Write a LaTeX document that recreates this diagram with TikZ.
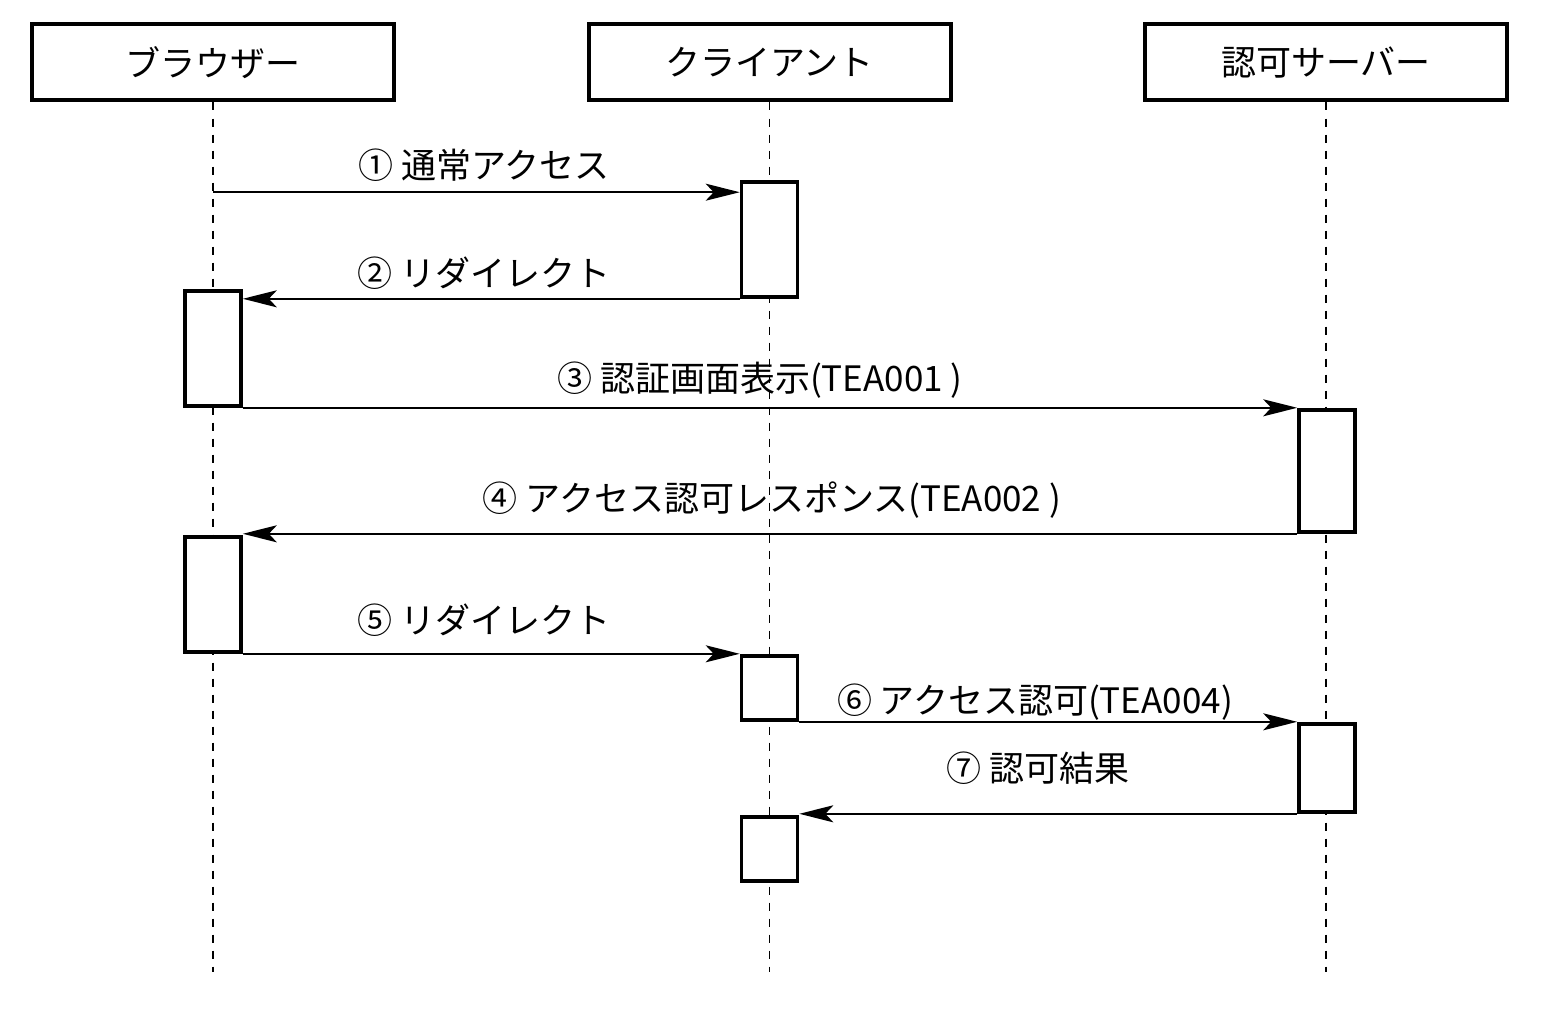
\documentclass[tikz,border=0pt]{standalone}
\usepackage{fontspec}
\setmainfont{Noto Sans CJK JP}
\usetikzlibrary{arrows.meta,calc}
\begin{document}
\begin{tikzpicture}[x=0.5pt,y=-0.5pt,
  actor/.style={draw, line width=2pt, minimum width=181pt, minimum height=38pt, inner sep=0pt, fill=white, font=\fontsize{17.5}{20}\selectfont},
  actbox/.style={draw, line width=1.8pt, minimum width=28pt, inner sep=0pt, fill=white},
  life/.style={line width=0.8pt, dash pattern=on 4pt off 4pt},
  msg/.style={line width=1pt, -{Stealth[length=17pt,width=8.5pt,inset=4pt]}},
  lbl/.style={font=\fontsize{17.5}{20}\selectfont, inner sep=0pt}]
\useasboundingbox (0,0) rectangle (1545,1011);
% lifeline ends
\coordinate (bend) at (213,972);
\coordinate (cend) at (769.5,972);
\coordinate (send) at (1326,972);
% actors
\node[actor] (b) at (213,62.5) {ブラウザー};
\node[actor] (c) at (769.5,62.5) {クライアント};
\node[actor] (s) at (1326,62.5) {認可サーバー};
% lifelines
\draw[life] (b.south) -- (bend);
\draw[life] (c.south) -- (cend);
\draw[life] (s.south) -- (send);
% activations
\node[actbox, minimum height=57.5pt] (c1) at (769.5,239.5) {};
\node[actbox, minimum height=57.5pt] (b1) at (213,348.5) {};
\node[actbox, minimum height=61pt] (s1) at (1327,471) {};
\node[actbox, minimum height=57.5pt] (b2) at (213,594.5) {};
\node[actbox, minimum height=32pt] (c2) at (769.5,688) {};
\node[actbox, minimum height=44pt] (s2) at (1327,768) {};
\node[actbox, minimum height=32pt] (c3) at (769.5,849) {};
% messages
\coordinate (m1) at ($(c1.north west)+(0,12)$);
\draw[msg] (b.south |- m1) -- (m1);
\draw[msg] (c1.south west) -- (c1.south west -| b1.east);
\draw[msg] (b1.south east) -- (b1.south east -| s1.west);
\draw[msg] (s1.south west) -- (s1.south west -| b2.east);
\draw[msg] (b2.south east) -- (b2.south east -| c2.west);
\draw[msg] (c2.south east) -- (c2.south east -| s2.west);
\draw[msg] (s2.south west) -- (s2.south west -| c3.east);
% labels
\node[lbl] (l1) at (484,165) {① 通常アクセス};
\node[lbl] (l2) at (484,273) {② リダイレクト};
\node[lbl] (l3) at (760,380) {③ 認証画面表示(TEA001 )};
\node[lbl] (l4) at (772,500) {④ アクセス認可レスポンス(TEA002 )};
\node[lbl] (l5) at (484,620) {⑤ リダイレクト};
\node[lbl] (l6) at (1035,702) {⑥ アクセス認可(TEA004)};
\node[lbl] (l7) at (1038,768) {⑦ 認可結果};
\end{tikzpicture}
\end{document}
